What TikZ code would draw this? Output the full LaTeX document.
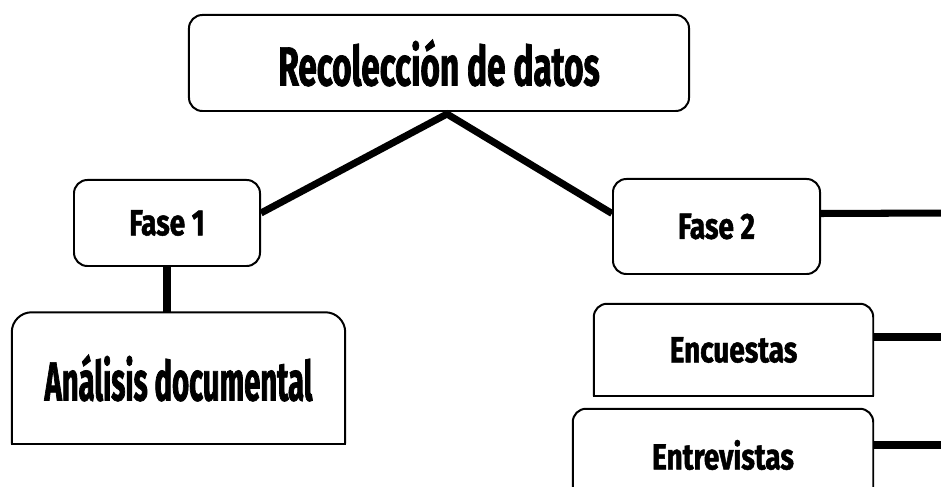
\documentclass[tikz,border=0pt]{standalone}
\usepackage{fontspec}
\setmainfont{Fira Sans}[FakeStretch=0.72]
\newfontfamily\titlefont{Fira Sans}[FakeStretch=0.606,BoldFeatures={FakeBold=1.3}]
\newfontfamily\bigfont{Fira Sans}[FakeStretch=0.53,BoldFeatures={FakeBold=1.3}]
\newfontfamily\smallfont{Fira Sans}[FakeStretch=0.77,BoldFeatures={FakeBold=1.3}]
\usetikzlibrary{calc}

\begin{document}
\begin{tikzpicture}[x=0.03cm,y=-0.03cm]
        \tikzset{box/.style={draw,line width=1.7pt,rounded corners=0.4cm,inner sep=0pt,align=center},
            halfbox/.style={inner sep=0pt,align=center},
            halfline/.style={line width=1.7pt},
            titletext/.style={font=\titlefont\bfseries\fontsize{47}{50}\selectfont},
            bigtext/.style={font=\bigfont\bfseries\fontsize{47}{50}\selectfont},
            smalltext/.style={font=\smallfont\bfseries\fontsize{31}{34}\selectfont},
            link/.style={line width=6pt,line join=miter}}
        \useasboundingbox (0,0) rectangle (941,487);
        \clip (0,0) rectangle (941,487);
        % boxes
        \node[box,titletext,minimum width=15cm,minimum height=2.88cm] (rec) at (439,63) {Recolección de datos};
        \node[box,smalltext,minimum width=5.58cm,minimum height=2.58cm] (fase1) at (167,223) {Fase 1};
        \node[box,smalltext,minimum width=6.21cm,minimum height=2.85cm] (fase2) at (716.5,226.5) {Fase 2};
        \node[halfbox,bigtext,minimum width=9.99cm,minimum height=3.93cm] (ana) at (178.5,378) {Análisis documental};
        \node[halfbox,smalltext,minimum width=8.37cm,minimum height=2.76cm] (enc) at (733.5,350) {Encuestas};
        \node[halfbox,smalltext,minimum width=9cm,minimum height=2.76cm] (entr) at (723,455) {Entrevistas};
        % boxes with only the top corners rounded
        \foreach \n/\r in {ana/0.6cm,enc/0.4cm,entr/0.4cm} {
            \draw[halfline,rounded corners=\r] (\n.south west) -- (\n.north west) -- (\n.north east) -- (\n.south east);
            \draw[halfline,line cap=rect] (\n.south east) -- (\n.south west);
        }
        % connectors
        \coordinate (apex) at ($(rec.south)+(8,2)$);
        \coordinate (edge2) at (950,213);
        \coordinate (edgeenc) at (950,337);
        \coordinate (edgeentr) at (950,445);
        \draw[link] ($(fase1.east)+(0,-10)$) -- (apex) -- ($(fase2.west)+(0,-13)$);
        \draw[link] (fase1.south) -- (fase1.south |- ana.north);
        \draw[link] ($(fase2.east)+(0,-13)$) -- (edge2);
        \draw[link] ($(enc.east)+(0,-13)$) -- (edgeenc);
        \draw[link] ($(entr.east)+(0,-10)$) -- (edgeentr);
\end{tikzpicture}
\end{document}
